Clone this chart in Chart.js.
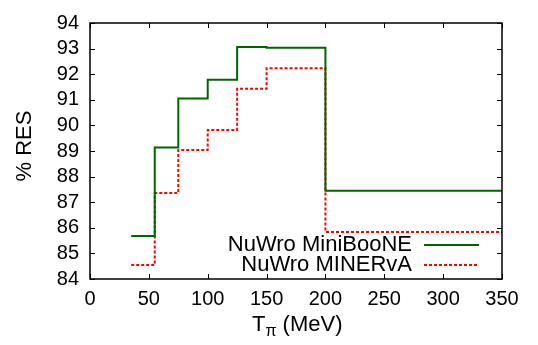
<!DOCTYPE html>
<html>
<head>
<meta charset="utf-8">
<script src="https://cdn.jsdelivr.net/npm/chart.js@4"></script>
<style>
  html, body { margin: 0; padding: 0; background: #fff; }
  #wrap { width: 538px; height: 345px; }
</style>
</head>
<body>
<div id="wrap"><canvas id="chartRes"></canvas></div>
<script>
// bin edges (MeV) and per-bin values, last value repeated to close the step
const EDGES = [35, 55, 75, 100, 125, 150, 200, 350];
const MINIBOONE = [85.68, 89.14, 91.05, 91.78, 93.06, 93.03, 87.45, 87.45];
const MINERVA = [84.55, 87.36, 89.04, 89.82, 91.43, 92.23, 85.84, 85.84];
const X_TICKS = [0, 50, 100, 150, 200, 250, 300, 350];
const Y_TICKS = [84, 85, 86, 87, 88, 89, 90, 91, 92, 93, 94];

const FONT = "Liberation Sans, Arial, Helvetica, sans-serif";
const INK = "#000";

const toPts = (vals) => EDGES.map((x, i) => ({ x, y: vals[i] }));

// gnuplot-style frame with ticks pointing inward, legend and axis titles
const gnuFrame = {
  id: "gnuFrame",
  afterDatasetsDraw(chart) {
    const { ctx, chartArea: a, scales } = chart;
    ctx.save();
    ctx.strokeStyle = INK;
    ctx.lineWidth = 1.5;
    ctx.strokeRect(a.left, a.top, a.right - a.left, a.bottom - a.top);
    ctx.lineWidth = 1;
    ctx.beginPath();
    X_TICKS.forEach((t) => {
      const px = Math.round(scales.x.getPixelForValue(t)) + 0.5;
      ctx.moveTo(px, a.bottom); ctx.lineTo(px, a.bottom - 5);
      ctx.moveTo(px, a.top); ctx.lineTo(px, a.top + 5);
    });
    Y_TICKS.forEach((t) => {
      const py = Math.round(scales.y.getPixelForValue(t)) + 0.5;
      ctx.moveTo(a.left, py); ctx.lineTo(a.left + 5, py);
      ctx.moveTo(a.right, py); ctx.lineTo(a.right - 5, py);
    });
    ctx.stroke();

    // legend: text right aligned, sample line on the right
    ctx.font = "22px " + FONT;
    ctx.textAlign = "right";
    ctx.textBaseline = "middle";
    ctx.fillStyle = INK;
    chart.data.datasets.forEach((ds, i) => {
      const y = 245 + i * 20;
      ctx.fillText(ds.label, 412, y);
      ctx.beginPath();
      ctx.strokeStyle = ds.borderColor;
      ctx.lineWidth = ds.borderWidth;
      ctx.setLineDash(ds.borderDash || []);
      ctx.moveTo(424, y); ctx.lineTo(479, y);
      ctx.stroke();
    });
    ctx.setLineDash([]);

    // axis titles
    ctx.fillStyle = INK;
    ctx.textBaseline = "alphabetic";
    ctx.textAlign = "left";
    const xt = 252, yb = 331;
    ctx.font = "22px " + FONT;
    ctx.fillText("T", xt, yb);
    const wT = ctx.measureText("T").width;
    ctx.font = "16px " + FONT;
    ctx.fillText("π", xt + wT, yb + 5);
    const wPi = ctx.measureText("π").width;
    ctx.font = "22px " + FONT;
    ctx.fillText(" (MeV)", xt + wT + wPi, yb);

    ctx.translate(31, 146);
    ctx.rotate(-Math.PI / 2);
    ctx.textAlign = "center";
    ctx.fillText("% RES", 0, 0);
    ctx.restore();
  },
};

new Chart(document.getElementById("chartRes"), {
  type: "line",
  data: {
    datasets: [
      {
        label: "NuWro MiniBooNE",
        data: toPts(MINIBOONE),
        borderColor: "#006400",
        borderWidth: 2,
        stepped: true,
        pointRadius: 0,
        fill: false,
      },
      {
        label: "NuWro MINERvA",
        data: toPts(MINERVA),
        borderColor: "#ff0000",
        borderWidth: 2,
        borderDash: [3, 2],
        stepped: true,
        pointRadius: 0,
        fill: false,
      },
    ],
  },
  options: {
    responsive: true,
    maintainAspectRatio: false,
    animation: false,
    layout: { padding: { top: 13, right: 36, left: 0, bottom: 0 } },
    plugins: { legend: { display: false }, tooltip: { enabled: false } },
    scales: {
      x: {
        type: "linear",
        min: 0,
        max: 350,
        afterBuildTicks: (s) => { s.ticks = X_TICKS.map((v) => ({ value: v })); },
        afterFit: (s) => { s.height = 66; },
        grid: { display: false, drawTicks: false },
        border: { display: false },
        ticks: { color: INK, padding: 8, autoSkip: false, font: { family: FONT, size: 20 }, maxRotation: 0 },
      },
      y: {
        min: 84,
        max: 94,
        afterBuildTicks: (s) => { s.ticks = Y_TICKS.map((v) => ({ value: v })); },
        afterFit: (s) => { s.width = 90; },
        grid: { display: false, drawTicks: false },
        border: { display: false },
        ticks: { color: INK, padding: 11, autoSkip: false, font: { family: FONT, size: 20 } },
      },
    },
  },
  plugins: [gnuFrame],
});
</script>
</body>
</html>
